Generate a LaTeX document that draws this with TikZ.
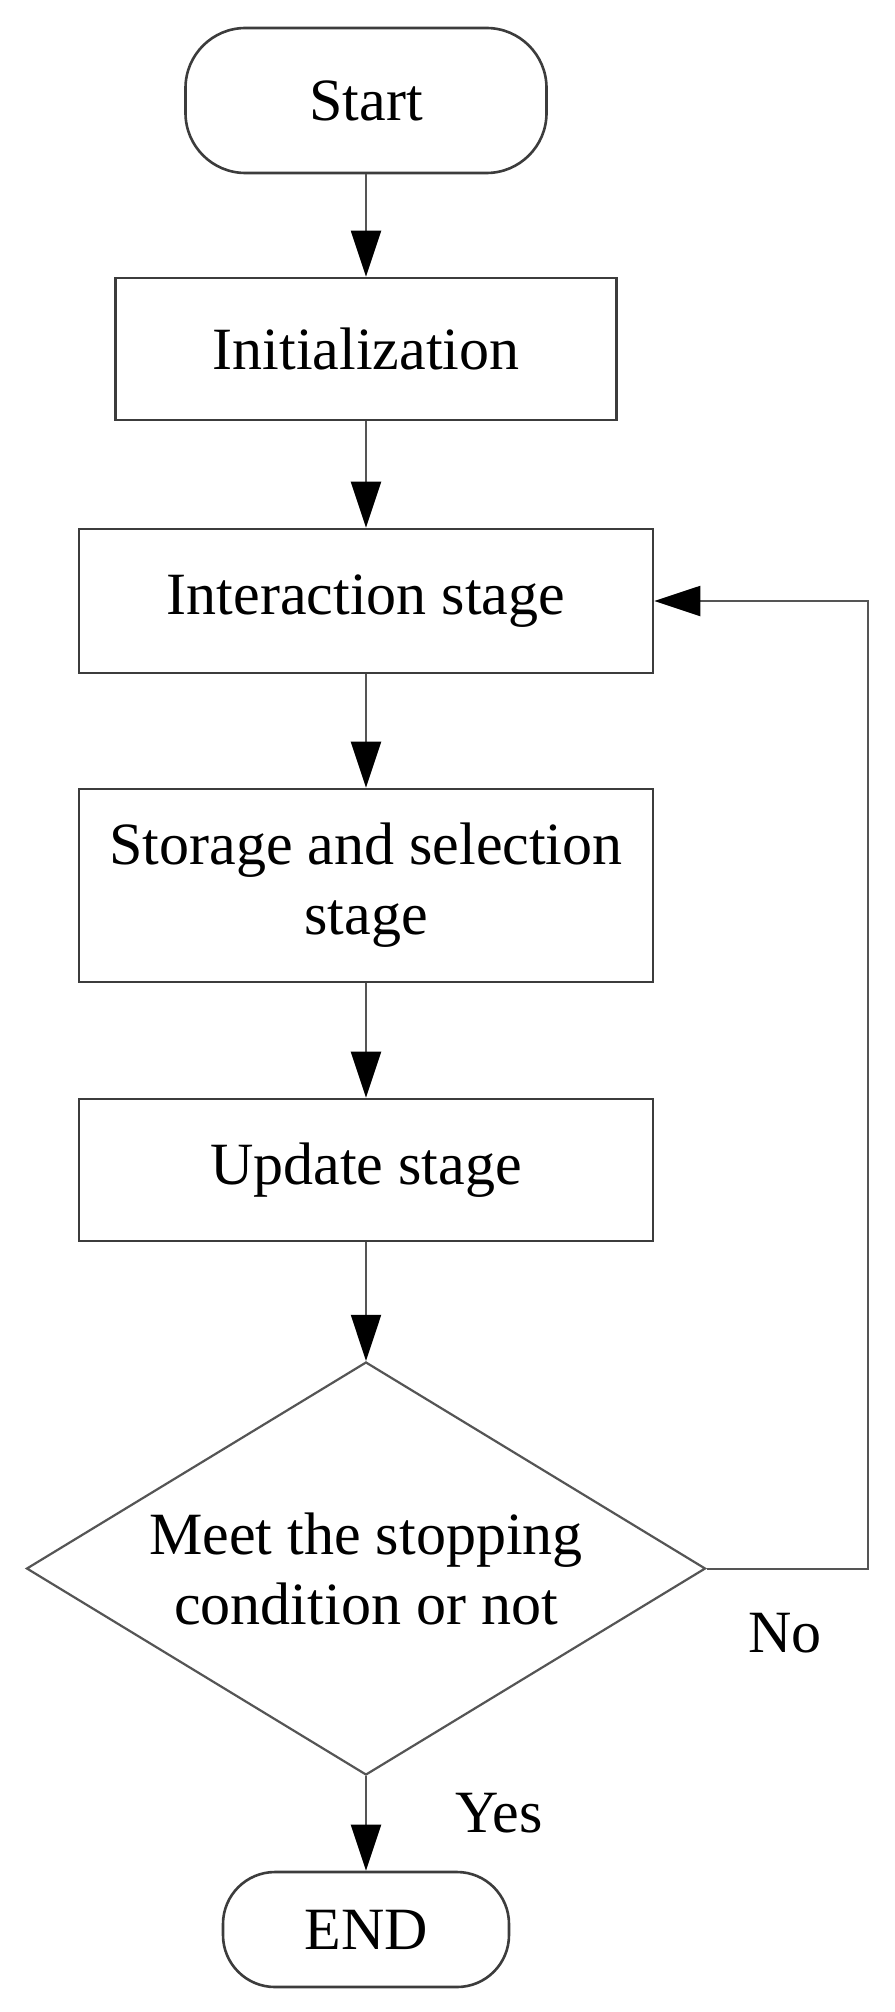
\documentclass[tikz,border=0pt]{standalone}
\usepackage{fontspec}
\setmainfont{Liberation Serif}
\usetikzlibrary{arrows.meta,shapes.geometric}
\definecolor{boxline}{HTML}{3C3C3C}
\definecolor{conline}{HTML}{555555}
\tikzset{
  base/.style={draw=boxline, line width=1.3pt, inner sep=0pt, align=center,
    font=\fontsize{30}{35}\selectfont, text=black},
  term/.style={base, rounded corners=30pt},
  proc/.style={base},
  decide/.style={base, shape=diamond, line width=1.1pt, draw=conline},
  arr/.style={draw=conline, line width=1pt,
    -{Triangle[length=23pt,width=15pt,color=black]}},
  lbl/.style={font=\fontsize{30}{35}\selectfont, inner sep=0pt}
}
\begin{document}
\begin{tikzpicture}[x=0.5pt,y=-0.5pt]
\path[use as bounding box] (0,0) rectangle (894,2012);
\node[term, minimum width=180.5pt, minimum height=72.5pt] (start) at (366,100.5) {Start};
\node[proc, minimum width=250.5pt, minimum height=71pt] (init) at (366,349) {Initialization};
\node[proc, minimum width=287pt, minimum height=72pt] (inter) at (366,601) {Interaction stage};
\node[proc, minimum width=287pt, minimum height=96.5pt] (stor) at (366,885.5) {Storage and selection\\stage};
\node[proc, minimum width=287pt, minimum height=71pt] (upd) at (366,1170) {Update stage};
\node[decide, minimum width=339.5pt, minimum height=206.5pt, shape aspect=1.64] (dia) at (366,1568.5) {Meet the stopping\\condition or not};
\node[term, rounded corners=26pt, minimum width=143pt, minimum height=57.5pt] (end) at (366,1929.5) {END};
\coordinate (fbx) at (868,0);
\draw[arr] (start) -- (init);
\draw[arr] (init) -- (inter);
\draw[arr] (inter) -- (stor);
\draw[arr] (stor) -- (upd);
\draw[arr] (upd) -- (dia);
\draw[arr] (dia) -- (end);
\draw[arr] (dia.east) -- (dia.east -| fbx) |- (inter.east);
\node[lbl] (no) at (785,1633) {No};
\node[lbl] (yes) at (499,1813) {Yes};
\end{tikzpicture}
\end{document}
